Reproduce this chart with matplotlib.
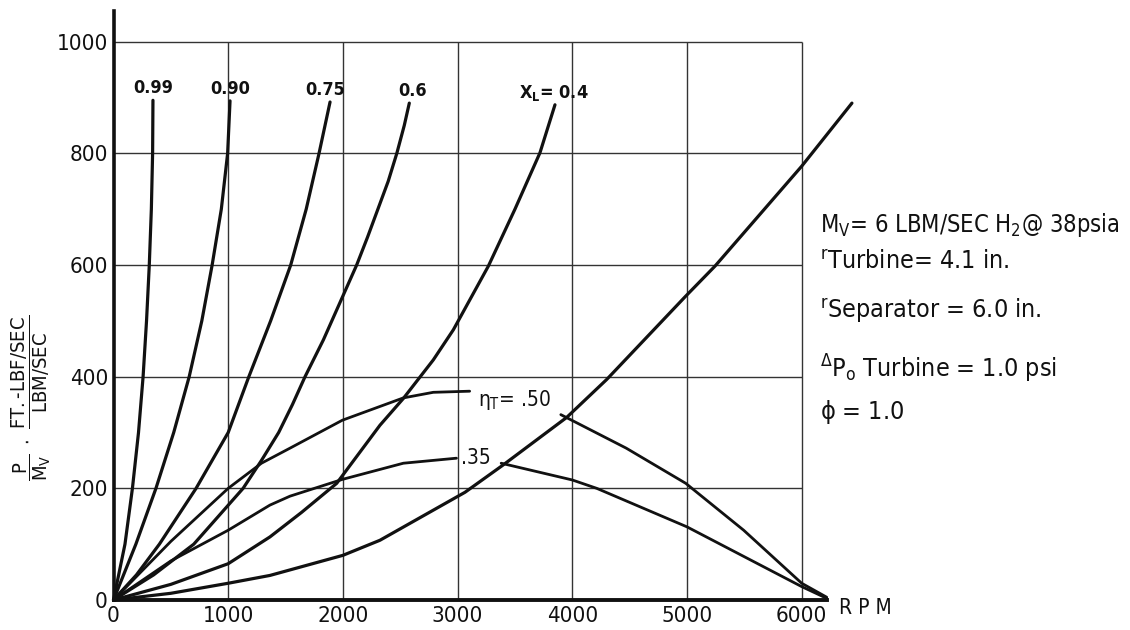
import matplotlib.pyplot as plt

# condensed face: the hand lettering is tall and narrow
plt.rcParams['font.family'] = 'DejaVu Sans'
plt.rcParams['font.stretch'] = 'condensed'
plt.rcParams['mathtext.fontset'] = 'custom'
plt.rcParams['mathtext.rm'] = 'DejaVu Sans'
plt.rcParams['mathtext.it'] = 'DejaVu Sans'

# axes ticks
x_ticks = [0, 1000, 2000, 3000, 4000, 5000, 6000]
y_ticks = [0, 200, 400, 600, 800, 1000]

# curves of constant liquid fraction X_L  (rpm, P/Mv)
rpm_099 = [0, 100, 165, 218, 258, 288, 312, 330, 341, 344]
p_099 = [0, 100, 200, 300, 400, 500, 600, 700, 800, 895]

rpm_090 = [0, 195, 370, 525, 660, 770, 860, 940, 995, 1016]
p_090 = [0, 100, 200, 300, 400, 500, 600, 700, 800, 894]

rpm_075 = [0, 200, 400, 720, 1000, 1180, 1370, 1545, 1680, 1792, 1888]
p_075 = [0, 45, 100, 200, 300, 400, 500, 600, 700, 800, 892]

rpm_06 = [0, 350, 700, 1130, 1290, 1440, 1560, 1670, 1830, 2120, 2215, 2305, 2395, 2470, 2535, 2579]
p_06 = [0, 45, 100, 200, 250, 300, 350, 400, 466, 600, 650, 700, 750, 800, 850, 890]

rpm_04 = [0, 500, 1000, 1364, 1640, 1946, 2323, 2527, 2788, 2963, 3268, 3500, 3718, 3849]
p_04 = [0, 28, 65, 113, 157, 209, 313, 361, 430, 484, 598, 700, 801, 887]

rpm_02 = [0, 500, 1000, 1364, 2000, 2323, 3065, 3398, 3951, 4300, 4983, 5244, 6000, 6438]
p_02 = [0, 12, 30, 44, 80, 107, 193, 242, 327, 395, 543, 598, 777, 890]

# turbine efficiency curves (drawn in two pieces, label in between)
rpm_e50a = [0, 500, 1000, 1290, 1539, 1995, 2527, 2788, 3105]
p_e50a = [0, 105, 200, 245, 272, 322, 362, 372, 374]
rpm_e50b = [3900, 4470, 4989, 5494, 6000, 6218]
p_e50b = [332, 272, 209, 125, 30, 5]

rpm_e35a = [0, 500, 1000, 1364, 1539, 1995, 2527, 2990]
p_e35a = [0, 70, 125, 170, 186, 216, 245, 254]
rpm_e35b = [3380, 4000, 4213, 5000, 6000, 6218]
p_e35b = [245, 215, 200, 131, 24, 3]

xl_curves = [
    (rpm_099, p_099, '0.99', 0),
    (rpm_090, p_090, '0.90', 0),
    (rpm_075, p_075, '0.75', -5),
    (rpm_06, p_06, '0.6', 3),
    (rpm_04, p_04, r'X$_\mathregular{L}$= 0.4', 0),
    (rpm_02, p_02, '0.2', -2),
]

ink = '#111111'

fig = plt.figure(figsize=(11.3, 6.3), dpi=100)
ax = fig.add_axes([113.5 / 1130, 30 / 630, 722.6 / 1130, 589 / 630])
ax.set_xlim(0, 6300)
ax.set_ylim(0, 1055)

# grid box
ax.vlines(x_ticks[1:], 0, 1000, color='#333333', lw=1.0, zorder=1)
ax.hlines(y_ticks[1:], 0, 6000, color='#333333', lw=1.0, zorder=1)

for rpm, p, lab, dx in xl_curves:
    ax.plot(rpm, p, color=ink, lw=2.3, solid_capstyle='round', solid_joinstyle='round',
            zorder=3, clip_on=False)
    if lab.startswith('X'):
        ax.annotate(lab, xy=(rpm[-1], p[-1]), xytext=(34, 12), textcoords='offset pixels',
                    ha='right', va='center', fontsize=13, fontweight='bold', color=ink)
    else:
        ax.annotate(lab, xy=(rpm[-1], p[-1]), xytext=(dx, 12), textcoords='offset pixels',
                    ha='center', va='center', fontsize=13, fontweight='bold', color=ink)

for rpm, p in [(rpm_e50a, p_e50a), (rpm_e50b, p_e50b), (rpm_e35a, p_e35a), (rpm_e35b, p_e35b)]:
    ax.plot(rpm, p, color=ink, lw=2.0, solid_capstyle='round', solid_joinstyle='round',
            zorder=3, clip_on=False)

ax.annotate(r'$\eta_\mathregular{T}$= .50', xy=(rpm_e50a[-1], p_e50a[-1]), xytext=(8, -9),
            textcoords='offset pixels', ha='left', va='center', fontsize=15, color=ink)
ax.annotate('.35', xy=(rpm_e35a[-1], p_e35a[-1]), xytext=(5, 0),
            textcoords='offset pixels', ha='left', va='center', fontsize=15, color=ink)

for side in ['top', 'right']:
    ax.spines[side].set_visible(False)
ax.spines['left'].set_bounds(0, 1055)
ax.spines['bottom'].set_bounds(0, 6220)
ax.spines['left'].set_linewidth(2.6)
ax.spines['bottom'].set_linewidth(2.8)
ax.spines['left'].set_color(ink)
ax.spines['bottom'].set_color(ink)

ax.set_xticks(x_ticks)
ax.set_yticks(y_ticks)
ax.tick_params(length=0, labelsize=16, colors=ink)
ax.tick_params(axis='x', pad=4)
ax.tick_params(axis='y', pad=4)

fig.text(865 / 1130, 1 - 608 / 630, 'R P M', ha='center', va='center', fontsize=15, color=ink)

# U+2010 hyphen so mathtext does not turn it into a spaced minus
ylab = (r'$\dfrac{\mathregular{P}}{\mathregular{M_V}}\ \cdot\ '
        r'\dfrac{\mathregular{FT.' + '\u2010' + r'LBF/SEC}}{\mathregular{LBM/SEC}}$')
fig.text(31 / 1130, 1 - 398 / 630, ylab, rotation=90, ha='center', va='center',
         fontsize=14.5, color=ink)

notes = [
    r'M$_\mathregular{V}$= 6 LBM/SEC H$_\mathregular{2}$@ 38psia',
    r'$^\mathregular{r}$Turbine= 4.1 in.',
    r'$^\mathregular{r}$Separator = 6.0 in.',
    r'$^\mathregular{\Delta}$P$_\mathregular{o}$ Turbine = 1.0 psi',
    r'$\phi$ = 1.0',
]
note_y = [225, 262, 311, 369, 412]
note_size = [17, 18, 18, 18, 18]
for txt, yy, fs in zip(notes, note_y, note_size):
    fig.text(820 / 1130, 1 - yy / 630, txt, ha='left', va='center', fontsize=fs, color=ink)

fig.savefig('out.png', dpi=100, facecolor='white')
